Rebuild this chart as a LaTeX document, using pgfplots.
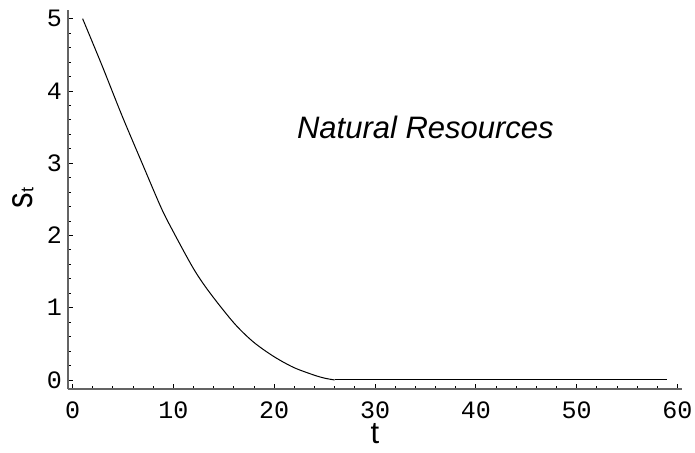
\documentclass[border=0pt]{standalone}
\usepackage{pgfplots}
\pgfplotsset{compat=1.18}
\usepackage{fontspec}
\setmainfont{Liberation Sans}
\setmonofont{Liberation Mono}
\definecolor{axgray}{RGB}{100,100,100}
\begin{document}
\begin{tikzpicture}
\useasboundingbox (-68pt,-63pt) rectangle (627pt,389pt);
\begin{axis}[
  scale only axis, width=614pt, height=379pt,
  xmin=-0.45, xmax=60.45, ymin=-0.125, ymax=5.12,
  axis lines=left,
  axis line style={-, draw=axgray, line width=1.3pt},
  xtick={0,10,20,30,40,50,60}, ytick={0,1,2,3,4,5},
  minor x tick num=4, minor y tick num=4,
  tick align=inside,
  major tick length=5pt, minor tick length=3pt,
  every tick/.style={draw=black, line width=0.8pt},
  /pgf/number format/assume math mode=true,
  ticklabel style={font=\ttfamily\fontsize{25}{25}\selectfont},
  xticklabel style={anchor=base, inner sep=0pt, yshift=-29.3pt},
  yticklabel style={anchor=east, inner sep=0pt, xshift=-6pt},
  xlabel={t},
  xlabel style={font=\fontsize{31}{31}\selectfont, inner sep=0pt, at={(axis description cs:0.5,0)}, anchor=base, yshift=-54.3pt},
  ylabel={\scalebox{1}[1.2]{s}\raisebox{-1pt}{\fontsize{18}{18}\selectfont t}},
  ylabel style={font=\fontsize{31}{31}\selectfont, at={(axis description cs:0,0.504)}, anchor=center, xshift=0pt, yshift=45pt},
  clip=false,
]
\addplot[black, line width=1pt, smooth, tension=0.5] coordinates {
(1.0,5.00) (2.9,4.36) (4.9,3.66) (6.9,3.00) (8.8,2.38) (10.0,2.05)
(12.0,1.54) (13.6,1.21) (16.0,0.79) (17.9,0.53) (19.9,0.33) (21.9,0.175)
(23.9,0.07) (25.0,0.025) (26.0,0)
};
\addplot[black, line width=1pt] coordinates {(26.0,0) (59.0,0)};
\node[font=\itshape\fontsize{31}{31}\selectfont, anchor=base] at (axis cs:35,3.348) {Natural Resources};
\end{axis}
\end{tikzpicture}
\end{document}
